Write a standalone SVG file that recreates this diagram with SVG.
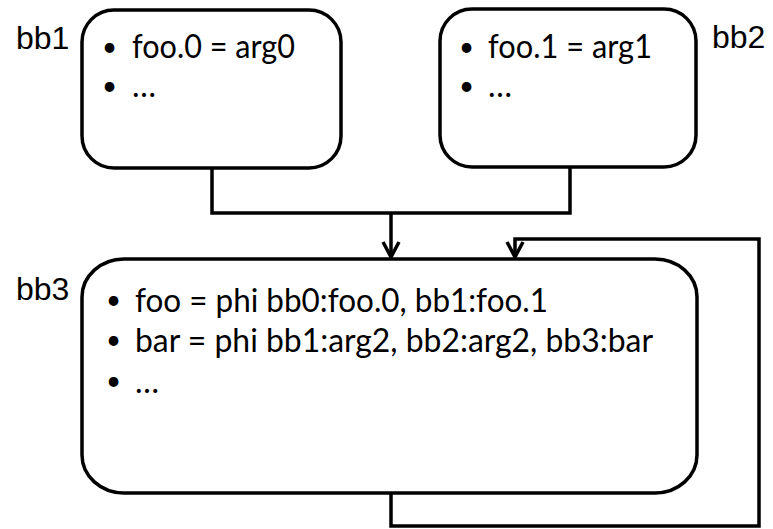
<svg xmlns="http://www.w3.org/2000/svg" width="773" height="529" viewBox="0 0 773 529">
  <style>
    .box { fill: #ffffff; stroke: #000000; stroke-width: 3.5; }
    .wire { fill: none; stroke: #000000; stroke-width: 3.5; stroke-linejoin: miter; }
    .label { font-family: "Liberation Sans", Arial, sans-serif; font-size: 32px; fill: #000000; }
    .item { font-family: Lato, "Open Sans", sans-serif; font-size: 32px; fill: #000000; }
    .dot { font-family: Lato, "Open Sans", sans-serif; font-size: 26px; fill: #000000; }
  </style>
  <defs>
    <marker id="open-arrow" markerUnits="userSpaceOnUse" markerWidth="40" markerHeight="40" orient="auto" refX="0" refY="0" overflow="visible">
      <path d="M-15,-8 L0,0 L-15,8" fill="none" stroke="#000000" stroke-width="3.5" stroke-linejoin="miter"/>
    </marker>
  </defs>

  <!-- connectors -->
  <g id="connectors">
    <path class="wire" d="M212,168 V213 H570 V167"/>
    <path class="wire" d="M391,213 V257" marker-end="url(#open-arrow)"/>
    <path class="wire" d="M391,493 V526 H759 V239 H515 V257" marker-end="url(#open-arrow)"/>
  </g>

  <!-- basic block bb1 -->
  <g id="bb1">
    <rect class="box" x="82" y="10" width="259" height="158" rx="32" ry="32"/>
    <text class="label" x="16" y="49">bb1</text>
    <text class="dot" x="102" y="56">•</text>
    <text class="item" x="132" y="58" textLength="163" lengthAdjust="spacingAndGlyphs">foo.0 = arg0</text>
    <text class="dot" x="102" y="95">•</text>
    <text class="item" x="132" y="97">…</text>
  </g>

  <!-- basic block bb2 -->
  <g id="bb2">
    <rect class="box" x="440" y="9" width="256" height="158" rx="32" ry="32"/>
    <text class="label" x="712" y="48">bb2</text>
    <text class="dot" x="459" y="56">•</text>
    <text class="item" x="488" y="58" textLength="164" lengthAdjust="spacingAndGlyphs">foo.1 = arg1</text>
    <text class="dot" x="459" y="95">•</text>
    <text class="item" x="488" y="97">…</text>
  </g>

  <!-- basic block bb3 -->
  <g id="bb3">
    <rect class="box" x="82" y="259" width="615" height="234" rx="42" ry="38"/>
    <text class="label" x="16" y="300">bb3</text>
    <text class="dot" x="106" y="309">•</text>
    <text class="item" x="135" y="312" textLength="413" lengthAdjust="spacingAndGlyphs">foo = phi bb0:foo.0, bb1:foo.1</text>
    <text class="dot" x="106" y="349">•</text>
    <text class="item" x="135" y="352" textLength="518" lengthAdjust="spacingAndGlyphs">bar = phi bb1:arg2, bb2:arg2, bb3:bar</text>
    <text class="dot" x="106" y="390">•</text>
    <text class="item" x="135" y="393">…</text>
  </g>
</svg>
